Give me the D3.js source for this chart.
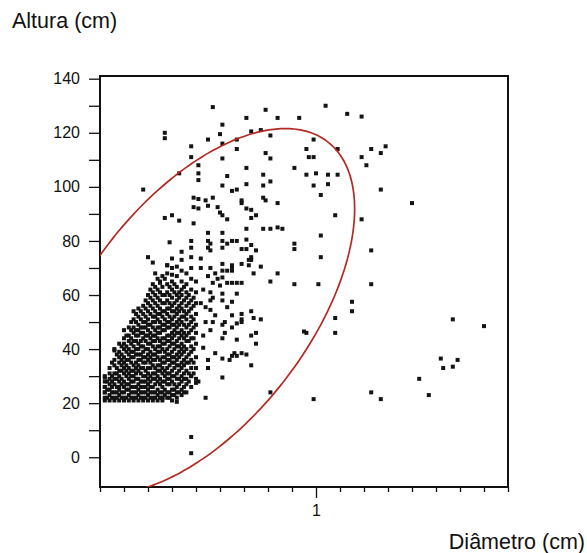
<!DOCTYPE html>
<meta charset="utf-8">
<style>
body { margin: 0; background: #fff; }
svg text { font-family: "Liberation Sans", Arial, sans-serif; fill: #111; }
.axis line { stroke: #111; stroke-width: 1.3; }
</style>
<body>
<script src="https://d3js.org/d3.v7.min.js"></script>
<script>

var yTicks = [0, 10, 20, 30, 40, 50, 60, 70, 80, 90, 100, 110, 120, 130, 140];
var yLabels = [0, 20, 40, 60, 80, 100, 120, 140];
var xTicks = [0.1, 0.2, 0.3, 0.4, 0.5, 0.6, 0.7, 0.8, 0.9, 1.0, 1.1, 1.2, 1.3, 1.4, 1.5, 1.6, 1.7, 1.8];
var xLabels = [1];

// pontos isolados [diametro, altura]
var dispersos = [
  [1.04,130],[0.79,128.5],[1.13,127],[1.19,126],[0.71,125.5],[0.84,125.5],[0.93,125.5],
  [0.73,120.5],[0.77,121],[0.81,119],[0.67,117.5],[0.99,117.5],[0.67,114],[0.96,114],[1.09,114],[1.23,114],[1.29,115],
  [0.79,112.5],[1.27,112.5],[0.97,111],[0.99,111],[0.81,110.5],[1.19,111],[1.21,108],
  [0.71,107],[0.91,107],[0.78,104.5],[0.96,104.5],[1.00,105],[1.05,104.5],[1.09,104.5],
  [0.71,101],[0.78,100.5],[0.81,102],[0.99,100.5],[1.05,101],[1.27,99],
  [0.65,98.5],[0.67,99],[1.02,97],[1.40,94],[0.69,94],[0.78,96],[0.79,95],[0.84,94],
  [0.71,92],[0.73,91.5],[0.73,88.5],[0.75,89.5],[1.08,89.5],[1.19,88],
  [0.71,84.5],[0.78,84.5],[0.81,84.5],[0.84,85],[0.86,84.5],[1.02,82],
  [0.65,80],[0.67,80],[0.71,80.5],[0.91,79],[0.91,77],[0.69,77],[0.71,77],[0.75,76.5],[1.23,76.5],
  [0.73,74],[1.02,74],[0.73,73],[0.65,70],[0.72,71],[0.77,70.5],[0.74,68],[0.84,68],[0.81,65],
  [0.65,64.5],[0.69,64.5],[0.91,64],[1.01,64],[1.23,64],[0.67,60.5],[0.65,57.5],[1.15,57.5],
  [1.15,54],[0.73,54],[0.65,52.5],[0.69,51],[0.74,51.5],[0.77,51],[1.08,51.5],[0.67,49.5],
  [1.57,51],[1.70,48.5],[0.73,45],[0.75,46],[0.75,42],[0.95,46.5],[0.96,46],[1.08,46],
  [0.67,43.5],[0.66,38.5],[0.67,37.5],[0.71,38],[0.73,34],[1.52,36.5],[1.59,36],[1.53,33],[1.57,33.5],
  [1.43,29],[1.47,23],[0.81,24],[0.99,21.5],[1.23,24],[1.27,21.5],
  [0.48,7.5],[0.48,1.5],[0.55,33],[0.61,29.5],[0.54,22],[0.42,20.5],[0.36,22],[0.50,27.5],[0.51,28],[0.45,24],[0.48,30],
  [0.57,129.5],[0.37,120],[0.37,118],[0.61,123],[0.60,119.5],[0.55,117.5],[0.61,116],[0.48,115],[0.48,111],[0.61,110.5],
  [0.51,108],[0.51,105],[0.51,102.5],[0.43,105],[0.63,104],[0.61,100.5],[0.28,99],
  [0.49,96],[0.51,95.5],[0.54,95],[0.57,96],[0.49,92.5],[0.51,92],[0.55,93],[0.59,92.5],[0.60,90.5],[0.61,89.5],
  [0.49,86.5],[0.37,88.5],[0.40,89.5],[0.43,87.5],[0.55,83],[0.61,83],[0.39,79.5],[0.48,80],[0.48,77.5],
  [0.55,80],[0.55,77.5],[0.61,80],[0.61,77.5],[0.63,79],[0.30,74],[0.69,95],[0.63,88],
  [0.56,79],[0.56,76.5],[0.73,78.5],[0.32,72],[0.38,71],[0.40,73.5],[0.44,76],
  [0.48,74],[0.52,73.5],[0.52,70],[0.56,70],[0.58,68],
  [0.61,71.5],[0.61,69],[0.61,66.5],[0.65,71],[0.65,69],[0.69,71.5],[0.72,73],
  [0.33,68],[0.35,64.5],[0.38,71],[0.42,70.5],[0.40,67.5],[0.57,64.5],[0.60,63.5],[0.63,64.5],[0.67,64.5],
  [0.56,61],[0.56,58],[0.61,60.5],[0.56,54.5],[0.63,55.5],[0.69,53],[0.69,50],[0.57,50],[0.61,49],
  [0.62,46],[0.65,37.5],[0.69,38.5],[0.61,36.5],[0.16,39.5],[0.12,29.5],[0.12,26],[0.12,24],
  [0.55,67],[0.59,66],[0.63,69],[0.57,59],[0.61,58],[0.54,55.5],[0.58,52.5],[0.62,50],[0.56,47],[0.65,48],
  [0.61,44],[0.53,40.5],[0.58,38.5],[0.64,36],[0.53,62],[0.52,57],[0.54,50],[0.53,45],[0.55,36]
];

// nucleo denso: [diametro, alturas da coluna]
var nucleo = [
  [0.12, [21,22,24,26,28,30]],
  [0.13, [22,25,28]],
  [0.14, [21,23,25,27,29,31,33]],
  [0.15, [22,24,26,28,30,35]],
  [0.16, [21,22,24,27,29,31,34,36,40]],
  [0.17, [22,24,26,29,31,33,38]],
  [0.18, [21,23,25,26,28,30,32,35,37,39,42]],
  [0.19, [22,24,27,29,32,34,36,38,41]],
  [0.20, [21,22,24,26,28,31,33,35,37,40,42,44,47]],
  [0.21, [22,25,27,30,32,34,36,39,41,45]],
  [0.22, [21,23,25,27,29,31,33,36,38,40,43,45,48]],
  [0.23, [22,24,26,28,30,32,35,37,39,42,44,47,50]],
  [0.24, [21,22,24,26,28,30,32,34,37,39,41,43,46,48,51,54]],
  [0.25, [22,24,26,29,31,33,35,38,40,43,45,47,50,53]],
  [0.26, [21,23,25,27,29,32,34,36,38,40,42,45,47,49,52,55]],
  [0.27, [22,24,26,28,31,33,36,38,41,43,46,48,51,54]],
  [0.28, [21,22,24,26,28,30,33,35,37,39,41,44,46,48,50,53,56]],
  [0.29, [22,24,26,28,30,32,35,37,40,43,45,48,50,52,55,58]],
  [0.30, [21,23,25,27,29,31,33,36,38,40,42,45,47,49,51,54,57,60]],
  [0.31, [22,24,26,28,30,33,35,37,39,42,44,46,49,53,56,59,62]],
  [0.32, [21,22,24,26,29,31,34,36,38,41,43,45,48,50,52,55,58,61,64]],
  [0.33, [22,24,27,29,31,33,36,38,40,43,45,47,50,52,54,57,60,63]],
  [0.34, [21,23,25,28,30,32,34,37,39,41,44,46,48,51,53,56,59,62,66]],
  [0.35, [22,24,27,29,32,34,36,39,41,43,46,48,50,53,55,58,61,65]],
  [0.36, [21,22,24,26,28,31,33,35,37,40,42,44,47,49,52,54,57,60,63,67]],
  [0.37, [23,25,28,30,32,35,37,39,42,44,47,49,51,54,57,60,66]],
  [0.38, [22,24,27,29,31,33,36,38,40,43,45,48,50,53,55,58,61,64,68]],
  [0.39, [22,24,27,29,31,34,36,38,41,43,45,48,50,52,55,57,60,63]],
  [0.40, [21,23,25,28,30,32,35,37,39,42,44,46,49,51,54,56,59,62,65,70]],
  [0.41, [23,25,27,30,33,35,37,40,42,45,47,49,52,54,57,61,64]],
  [0.42, [22,24,26,29,31,34,36,38,41,43,46,48,50,53,55,58,60,63,67]],
  [0.43, [24,27,29,32,34,37,39,41,44,46,49,51,54,56,59,61]],
  [0.44, [23,25,28,30,33,35,38,40,42,45,47,50,52,55,57,60,62,65,69,73]],
  [0.45, [26,29,31,34,36,39,41,44,46,49,52,54,58,63]],
  [0.46, [24,27,29,32,35,37,40,43,45,48,51,53,56,59,61,64,68]],
  [0.47, [28,31,35,38,43,46,49,54,57,60]],
  [0.48, [26,30,33,36,39,41,44,47,50,52,55,58,62,66,70]],
  [0.49, [31,35,40,44,48,51,56,59]],
  [0.50, [29,33,37,42,46,49,53,57,61,65]]
];

// elipse de densidade (95%)
var mediaX = 0.505, mediaY = 54;
var desvioX = 0.268, desvioY = 27.6;
var correlacao = 0.56;
var qui2 = 5.991;

var svg = d3.select("body").append("svg")
    .attr("width", 587)
    .attr("height", 553)
    .style("display", "block");

var x = d3.scaleLinear().domain([0.1, 1.8]).range([100, 508]);
var y = d3.scaleLinear().domain([-11, 141]).range([487, 76]);

svg.append("defs").append("clipPath").attr("id", "plotclip")
  .append("rect")
    .attr("x", 100).attr("y", 76)
    .attr("width", 408).attr("height", 411);

// moldura
svg.append("rect")
    .attr("class", "moldura")
    .attr("x", x(0.1))
    .attr("y", y(141))
    .attr("width", x(1.8) - x(0.1))
    .attr("height", y(-11) - y(141))
    .attr("fill", "none")
    .attr("stroke", "#111")
    .attr("stroke-width", 2);

// eixos
var yAxis = d3.axisLeft(y)
    .tickValues(yTicks)
    .tickSize(11)
    .tickSizeOuter(0)
    .tickPadding(9)
    .tickFormat(function(d) { return yLabels.indexOf(d) >= 0 ? d : ""; });

var gy = svg.append("g")
    .attr("class", "axis")
    .attr("transform", "translate(100,0)")
    .call(yAxis);
gy.select(".domain").remove();
gy.selectAll("text").style("font-size", "16px").attr("fill", "#111");

var xAxis = d3.axisBottom(x)
    .tickValues(xTicks)
    .tickSize(5)
    .tickSizeOuter(0)
    .tickFormat(function(d) { return xLabels.indexOf(Math.round(d * 10) / 10) >= 0 ? d : ""; });

var gx = svg.append("g")
    .attr("class", "axis")
    .attr("transform", "translate(0,487)")
    .call(xAxis);
gx.select(".domain").remove();
gx.selectAll(".tick")
    .filter(function(d) { return xLabels.indexOf(Math.round(d * 10) / 10) >= 0; })
    .select("line").attr("y2", 11);
gx.selectAll("text").attr("y", 18).style("font-size", "16px").attr("fill", "#111");

// pontos
var pontos = dispersos.slice();
nucleo.forEach(function(col) {
    col[1].forEach(function(h) { pontos.push([col[0], h]); });
});

svg.append("g").selectAll("rect")
    .data(pontos)
  .enter().append("rect")
    .attr("x", function(d) { return x(d[0]) - 2; })
    .attr("y", function(d) { return y(d[1]) - 2; })
    .attr("width", 4)
    .attr("height", 4)
    .attr("fill", "#141414");

// elipse
var k = Math.sqrt(qui2);
var elipse = d3.range(0, 361, 2).map(function(a) {
    var t = a * Math.PI / 180;
    return [
        mediaX + k * desvioX * Math.cos(t),
        mediaY + k * desvioY * (correlacao * Math.cos(t) + Math.sqrt(1 - correlacao * correlacao) * Math.sin(t))
    ];
});

svg.append("path")
    .datum(elipse)
    .attr("clip-path", "url(#plotclip)")
    .attr("fill", "none")
    .attr("stroke", "#b42a23")
    .attr("stroke-width", 1.7)
    .attr("d", d3.line().curve(d3.curveCardinalClosed)
        .x(function(d) { return x(d[0]); })
        .y(function(d) { return y(d[1]); }));

svg.append("text")
    .attr("x", 12).attr("y", 28)
    .style("font-size", "21.5px")
    .text("Altura (cm)");

svg.append("text")
    .attr("x", 585).attr("y", 549)
    .attr("text-anchor", "end")
    .style("font-size", "21.5px")
    .text("Diâmetro (cm)");

</script>
